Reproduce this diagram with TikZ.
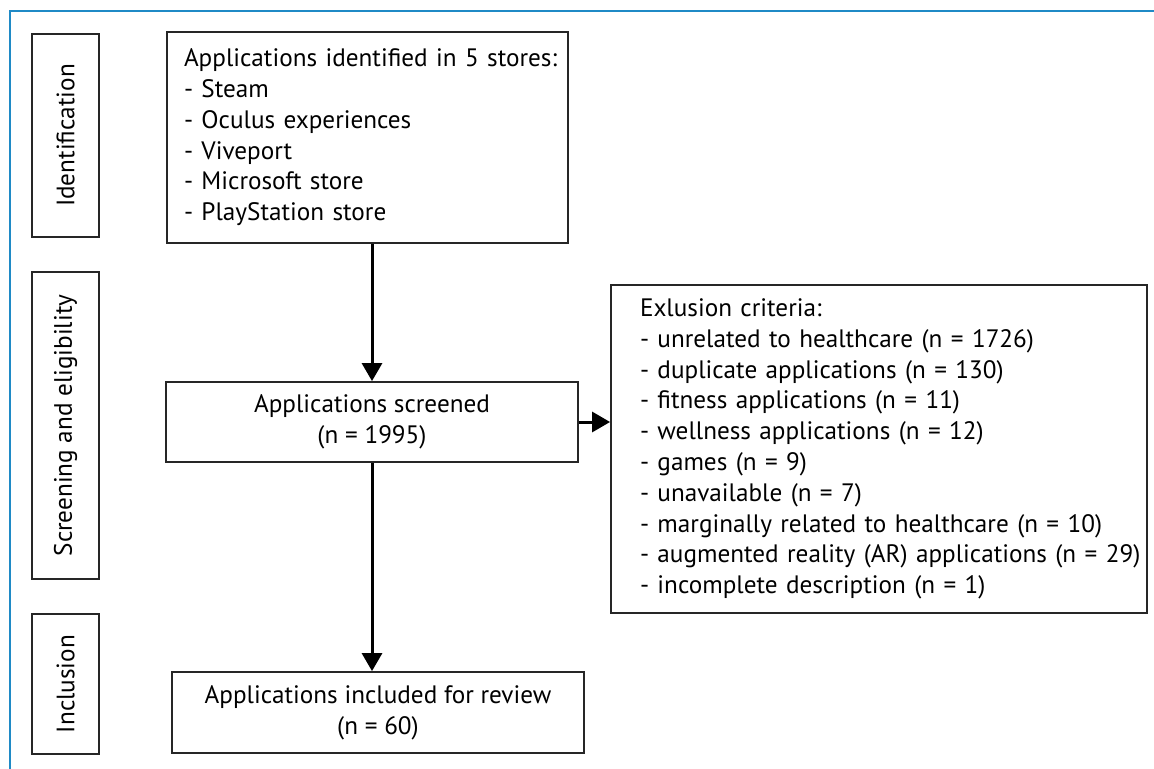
\documentclass[tikz,border=0pt]{standalone}
\usepackage{fontspec}
\setmainfont{PT Sans}
\usetikzlibrary{arrows.meta}
\definecolor{frameblue}{HTML}{1F8AC6}

\begin{document}
\begin{tikzpicture} [
        x=0.5pt, y=-0.5pt,
        font=\fontsize{12.6}{15.4}\selectfont,
        box/.style n args={2}{
        draw=black!85, line width=0.9pt,
        minimum width=#1pt,
        minimum height=#2pt,
        inner sep=0pt,
        rectangle
        },
        phase/.style n args={2}{
        box={#1}{#2},
        rotate=90
        },
        flow/.style={line width=1.5pt, -{Triangle[length=9pt,width=10pt]}}
    ]

        % 1px = 0.5pt

    \useasboundingbox (0,0) rectangle (1154,769);
    \draw[frameblue, line width=1.3pt] (10,769) -- (10,11) -- (1154,11);

    \node[phase = {101.5}{33.5}](pid) at (65.5,135.5) {Identification};
    \node[phase = {153.5}{33.5}](pse) at (65.5,425.5) {Screening and eligibility};
    \node[phase = {70}{33.5}](pin) at (65.5,684) {Inclusion};

    \node[box = {200.5}{105.5}, inner xsep=8.5pt, text width=183.5pt](stores) at (367.5,137.5) {
        \begin{tabular}{@{}l@{}}
        Applications identified in 5 stores:\\
        - Steam\\
        - Oculus experiences\\
        - Viveport\\
        - Microsoft store\\
        - PlayStation store
        \end{tabular}};
    \node[box = {206}{40}, align=center](screened) at (372,422) {
        Applications screened\\ (n = 1995)};
    \node[box = {268}{164}, inner xsep=14.5pt, text width=239pt](excl) at (879,449) {
        \begin{tabular}{@{}l@{}}
        Exlusion criteria:\\
        - unrelated to healthcare (n = 1726)\\
        - duplicate applications (n = 130)\\
        - fitness applications (n = 11)\\
        - wellness applications (n = 12)\\
        - games (n = 9)\\
        - unavailable (n = 7)\\
        - marginally related to healthcare (n = 10)\\
        - augmented reality (AR) applications (n = 29)\\
        - incomplete description (n = 1)
        \end{tabular}};
    \node[box = {206}{40.5}, align=center](incl) at (378,712.5) {
        Applications included for review\\ (n = 60)};

    \draw[flow] (screened.north |- stores.south) -- (screened.north);
    \draw[flow] (screened.east) -- (screened.east -| excl.west);
    \draw[flow] (screened.south) -- (screened.south |- incl.north);

    \end{tikzpicture}
\end{document}
